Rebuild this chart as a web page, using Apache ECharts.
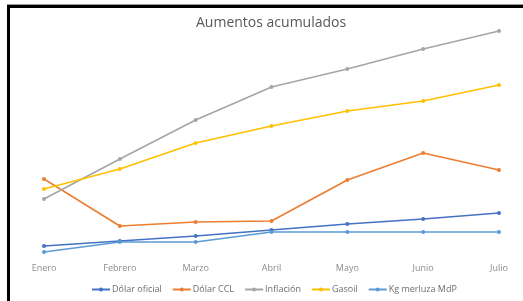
<!DOCTYPE html>
<html>
<head>
<meta charset="utf-8">
<script src="https://cdn.jsdelivr.net/npm/echarts@6/dist/echarts.min.js"></script>
<style>
  html, body { margin: 0; padding: 0; background: #fff; }
  #wrap { position: relative; width: 523px; height: 301px; }
  #chart { width: 523px; height: 301px; }
  #frame {
    position: absolute; left: 7px; top: 5px; right: 0; bottom: 0;
    border-left: 3px solid #000; border-top: 3px solid #000;
    box-shadow: 0 -1px 0 #999;
    pointer-events: none;
  }
</style>
</head>
<body>
<div id="wrap">
  <div id="chart"></div>
  <div id="frame"></div>
</div>
<script>
// meses
const meses = ['Enero', 'Febrero', 'Marzo', 'Abril', 'Mayo', 'Junio', 'Julio']
// series (aumento acumulado)
const dolarOficial = [8, 10.5, 13, 16, 19, 21.5, 24.5]
const dolarCCL = [41.5, 18, 20, 20.5, 41, 54.5, 46]
const inflacion = [31.5, 51.5, 71, 87.5, 96.5, 106.5, 115.5]
const gasoil = [36.5, 46.5, 59.5, 68, 75.5, 80.5, 88.5]
const merluza = [5, 10, 10, 15, 15, 15, 15]

const nombres = ['Dólar oficial', 'Dólar CCL', 'Inflación', 'Gasoil', 'Kg merluza MdP']
const colores = ['#4472C4', '#ED7D31', '#A5A5A5', '#FFC000', '#5B9BD5']
const datos = [dolarOficial, dolarCCL, inflacion, gasoil, merluza]

let chart = echarts.init(document.getElementById('chart'))

let option = {
  color: colores,
  animation: false,
  title: {
    text: 'Aumentos acumulados',
    left: 191,
    top: 11,
    textStyle: {
      fontFamily: 'Open Sans',
      fontWeight: 'normal',
      fontSize: 14,
      color: '#595959'
    }
  },
  legend: {
    bottom: 2,
    left: 86,
    itemWidth: 18,
    itemHeight: 5,
    itemGap: 10,
    textStyle: { fontFamily: 'Open Sans', fontSize: 9, color: '#6E6E6E', padding: [0, 0, 0, -3] },
    data: nombres
  },
  grid: {
    left: 44,
    right: 24,
    top: 22,
    bottom: 39
  },
  xAxis: {
    type: 'category',
    boundaryGap: false,
    data: meses,
    axisLine: { show: false },
    axisTick: { show: false },
    axisLabel: {
      margin: 2,
      fontFamily: 'Open Sans',
      fontSize: 9,
      color: '#8C8C8C'
    }
  },
  yAxis: {
    type: 'value',
    min: 0,
    max: 120,
    show: false,
    splitLine: { show: false }
  },
  series: datos.map((d, i) => ({
    name: nombres[i],
    type: 'line',
    data: d,
    symbol: 'circle',
    symbolSize: 4,
    lineStyle: { width: 1.6, color: colores[i] },
    itemStyle: { color: colores[i] }
  }))
}

chart.setOption(option)
</script>
</body>
</html>
